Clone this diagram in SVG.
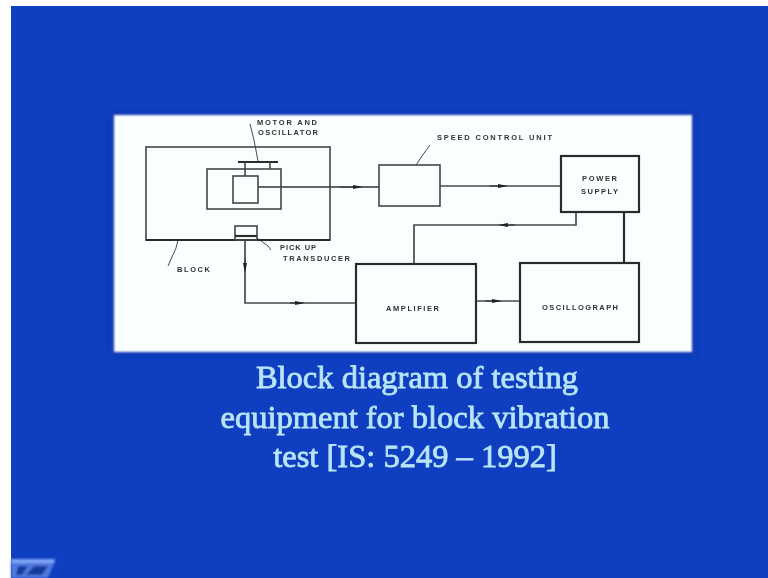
<svg xmlns="http://www.w3.org/2000/svg" width="768" height="578" viewBox="0 0 768 578">
<defs>
<filter id="b" x="-5%" y="-5%" width="110%" height="110%"><feGaussianBlur stdDeviation="0.7"/></filter>
<filter id="t" x="-5%" y="-20%" width="110%" height="140%"><feGaussianBlur stdDeviation="0.6"/></filter>
<filter id="p" x="-3%" y="-3%" width="106%" height="106%"><feGaussianBlur stdDeviation="1"/></filter>
<filter id="h" x="-5%" y="-8%" width="110%" height="116%"><feGaussianBlur stdDeviation="3"/></filter>
<filter id="c" x="-20%" y="-30%" width="140%" height="160%"><feGaussianBlur stdDeviation="1.2"/></filter>
<marker id="a" viewBox="0 0 10 6" refX="5" refY="3" markerWidth="10" markerHeight="6" markerUnits="userSpaceOnUse" orient="auto"><path d="M0 1L10 3L0 5Z" fill="#222"/></marker>
</defs>
<style>
.box{fill:none;stroke:#444;stroke-width:1.6}
.heavy{fill:none;stroke:#2b2b2b;stroke-width:2.2}
.line{fill:none;stroke:#4a4a4a;stroke-width:1.7}
.thin{stroke-width:1}
.lab{font-family:"Liberation Sans",Arial,sans-serif;font-size:7.5px;fill:#333;font-weight:bold}
.title{font-family:"Liberation Serif","Times New Roman",serif;font-size:32.5px;fill:#b8e4f8;stroke:#b8e4f8;stroke-width:.8;text-anchor:middle}
</style>
<rect width="768" height="578" fill="#0f3fc0"/>
<rect x="0" y="0" width="11" height="578" fill="#fff"/>
<rect x="0" y="0" width="768" height="6" fill="#fff"/>
<rect x="110" y="111" width="586" height="245" fill="#0b37b4" filter="url(#h)"/>
<rect x="114" y="115" width="578" height="237" fill="#fbfefe" filter="url(#p)"/>
<g id="connectors" filter="url(#b)">
<path class="line" d="M258 187H379" style="stroke:#333"/>
<path class="line" d="M340 187H358" marker-end="url(#a)"/>
<path class="line" d="M440 186H561"/>
<path class="line" d="M490 186H503" marker-end="url(#a)"/>
<path class="line" d="M576 212V225H414V264"/>
<path class="line" d="M515 225H503" marker-end="url(#a)"/>
<path class="heavy" d="M624 212V263"/>
<path class="line" d="M476 301H520"/>
<path class="line" d="M485 301H497" marker-end="url(#a)"/>
<path class="line" d="M245 240V303H355"/>
<path class="line" d="M245 258V268" marker-end="url(#a)"/>
<path class="line" d="M290 303H300" marker-end="url(#a)"/>
<path class="line thin" d="M250 124L254 140L258 161"/>
<path class="line thin" d="M416 165L422 156L430 145"/>
<path class="line thin" d="M257 238L268 246L271 250"/>
<path class="line thin" d="M178 240L176 248L168 266"/>
</g>
<g id="block" filter="url(#b)"><rect class="box" x="146" y="147" width="184" height="93"/><path class="heavy" d="M146 240H330"/><text class="lab" x="177" y="272" textLength="33">BLOCK</text></g>
<g id="housing" filter="url(#b)"><rect class="box" x="207" y="169" width="74" height="40"/></g>
<g id="motor-oscillator" filter="url(#b)"><rect class="box" x="233" y="176" width="25" height="27"/><path class="heavy" d="M238 162H278"/><path class="box" d="M245 162V176M270 162V169"/><text class="lab" x="257" y="125" textLength="60">MOTOR AND</text><text class="lab" x="258" y="135" textLength="60">OSCILLATOR</text></g>
<g id="pickup-transducer" filter="url(#b)"><rect class="box" x="235" y="226" width="22" height="14"/><path class="heavy" d="M235 236H257"/><text class="lab" x="280" y="250" textLength="36">PICK UP</text><text class="lab" x="283" y="261" textLength="67">TRANSDUCER</text></g>
<g id="speed-control" filter="url(#b)"><rect class="box" x="379" y="165" width="61" height="41"/><text class="lab" x="437" y="140" textLength="115">SPEED CONTROL UNIT</text></g>
<g id="power-supply" filter="url(#b)"><rect class="heavy" x="561" y="156" width="78" height="56"/><text class="lab" x="582" y="181" textLength="35">POWER</text><text class="lab" x="581" y="194" textLength="37">SUPPLY</text></g>
<g id="amplifier" filter="url(#b)"><rect class="heavy" x="356" y="264" width="120" height="79"/><text class="lab" x="386" y="311" textLength="53">AMPLIFIER</text></g>
<g id="oscillograph" filter="url(#b)"><rect class="heavy" x="520" y="263" width="119" height="79"/><text class="lab" x="542" y="310" textLength="76">OSCILLOGRAPH</text></g>
<g id="caption" filter="url(#t)">
<text class="title" x="417" y="388">Block diagram of testing</text>
<text class="title" x="415" y="428">equipment for block vibration</text>
<text class="title" x="415" y="467">test [IS: 5249 – 1992]</text>
</g>
<g id="corner" filter="url(#c)"><path d="M11 561H55L48 578H11Z" fill="#4f78e0"/><path d="M11 559H55L54 563H11Z" fill="#7fa4f4"/><path d="M18 566H28L22 575H16ZM34 566H48L42 575H26Z" fill="#123a9c"/></g>
</svg>
